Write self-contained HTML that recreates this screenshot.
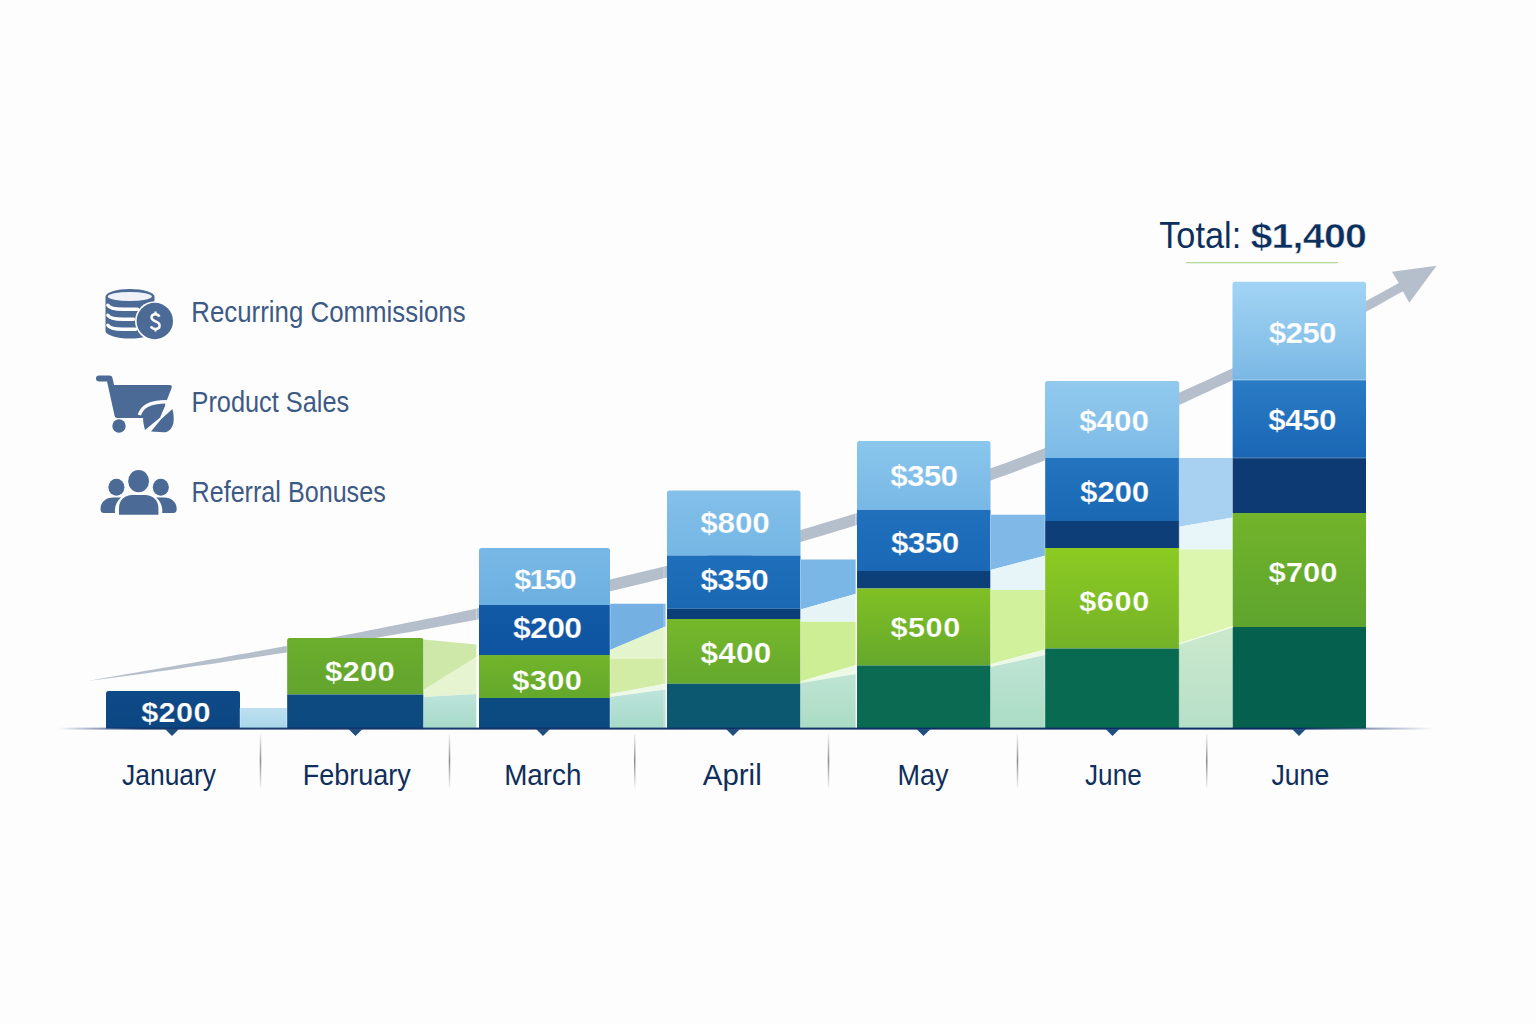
<!DOCTYPE html>
<html><head><meta charset="utf-8"><style>
html,body{margin:0;padding:0;background:#fdfdfd;}
svg{display:block;}
text{font-family:"Liberation Sans",sans-serif;}
</style></head><body>
<svg width="1536" height="1024" viewBox="0 0 1536 1024">
<defs>
<linearGradient id="tl1" x1="0" x2="0" y1="0" y2="1"><stop offset="0" stop-color="#bde4dc"/><stop offset="1" stop-color="#a6dac8"/></linearGradient>
<linearGradient id="tl2" x1="0" x2="0" y1="0" y2="1"><stop offset="0" stop-color="#bfe4d4"/><stop offset="1" stop-color="#aadcc4"/></linearGradient>
<linearGradient id="tl3" x1="0" x2="0" y1="0" y2="1"><stop offset="0" stop-color="#cce9cc"/><stop offset="1" stop-color="#b6dfc8"/></linearGradient>
<linearGradient id="lbg" x1="0" x2="0" y1="0" y2="1"><stop offset="0" stop-color="#bde0f0"/><stop offset="1" stop-color="#a9d6ea"/></linearGradient>
<linearGradient id="g1" x1="0" x2="0" y1="0" y2="1"><stop offset="0" stop-color="#0f4a88"/><stop offset="1" stop-color="#0c4682"/></linearGradient><linearGradient id="g2" x1="0" x2="0" y1="0" y2="1"><stop offset="0" stop-color="#6cae2c"/><stop offset="1" stop-color="#62a42e"/></linearGradient><linearGradient id="g3" x1="0" x2="0" y1="0" y2="1"><stop offset="0" stop-color="#78b8e6"/><stop offset="1" stop-color="#6cb0e0"/></linearGradient><linearGradient id="g4" x1="0" x2="0" y1="0" y2="1"><stop offset="0" stop-color="#125aa6"/><stop offset="1" stop-color="#0e54a0"/></linearGradient><linearGradient id="g5" x1="0" x2="0" y1="0" y2="1"><stop offset="0" stop-color="#72b42a"/><stop offset="1" stop-color="#64a82c"/></linearGradient><linearGradient id="g6" x1="0" x2="0" y1="0" y2="1"><stop offset="0" stop-color="#84c0ea"/><stop offset="1" stop-color="#74b6e4"/></linearGradient><linearGradient id="g7" x1="0" x2="0" y1="0" y2="1"><stop offset="0" stop-color="#1e6fbb"/><stop offset="1" stop-color="#1a68b4"/></linearGradient><linearGradient id="g8" x1="0" x2="0" y1="0" y2="1"><stop offset="0" stop-color="#76b82a"/><stop offset="1" stop-color="#64a82e"/></linearGradient><linearGradient id="g9" x1="0" x2="0" y1="0" y2="1"><stop offset="0" stop-color="#8ac6ec"/><stop offset="1" stop-color="#78b8e6"/></linearGradient><linearGradient id="g10" x1="0" x2="0" y1="0" y2="1"><stop offset="0" stop-color="#2070bc"/><stop offset="1" stop-color="#1a68b6"/></linearGradient><linearGradient id="g11" x1="0" x2="0" y1="0" y2="1"><stop offset="0" stop-color="#80c024"/><stop offset="1" stop-color="#66a82c"/></linearGradient><linearGradient id="g12" x1="0" x2="0" y1="0" y2="1"><stop offset="0" stop-color="#92caee"/><stop offset="1" stop-color="#7cbae6"/></linearGradient><linearGradient id="g13" x1="0" x2="0" y1="0" y2="1"><stop offset="0" stop-color="#2474c0"/><stop offset="1" stop-color="#1a68b4"/></linearGradient><linearGradient id="g14" x1="0" x2="0" y1="0" y2="1"><stop offset="0" stop-color="#8ccb22"/><stop offset="1" stop-color="#74b228"/></linearGradient><linearGradient id="g15" x1="0" x2="0" y1="0" y2="1"><stop offset="0" stop-color="#a2d4f4"/><stop offset="1" stop-color="#7ab8e4"/></linearGradient><linearGradient id="g16" x1="0" x2="0" y1="0" y2="1"><stop offset="0" stop-color="#2a7cc6"/><stop offset="1" stop-color="#1a66b4"/></linearGradient><linearGradient id="g17" x1="0" x2="0" y1="0" y2="1"><stop offset="0" stop-color="#72b42a"/><stop offset="1" stop-color="#5fa42e"/></linearGradient>
<linearGradient id="ax" x1="0" x2="1" y1="0" y2="0">
<stop offset="0" stop-color="#0b2a62" stop-opacity="0"/><stop offset="0.06" stop-color="#0b2a62" stop-opacity="0.9"/>
<stop offset="0.9" stop-color="#0b2a62"/><stop offset="1" stop-color="#0b2a62" stop-opacity="0"/></linearGradient>
<linearGradient id="dv" x1="0" x2="0" y1="0" y2="1">
<stop offset="0" stop-color="#999" stop-opacity="0.1"/><stop offset="0.5" stop-color="#8a8a8a"/><stop offset="1" stop-color="#999" stop-opacity="0.1"/></linearGradient>
</defs>
<rect width="1536" height="1024" fill="#fdfdfd"/>
<path d="M88.0,681.0 L97.4,679.3 L106.8,677.6 L116.3,676.0 L125.7,674.3 L135.1,672.7 L144.5,671.1 L154.0,669.4 L163.4,667.8 L172.8,666.2 L182.3,664.5 L191.7,662.9 L201.1,661.2 L210.5,659.6 L220.0,657.9 L229.4,656.2 L238.8,654.5 L248.3,652.9 L257.7,651.2 L267.1,649.5 L276.6,647.8 L286.0,646.0 L295.4,644.3 L304.8,642.6 L314.3,640.8 L323.7,639.0 L333.1,637.3 L342.6,635.5 L352.0,633.7 L361.4,631.9 L370.8,630.0 L380.3,628.2 L389.7,626.3 L399.1,624.5 L408.5,622.6 L418.0,620.7 L427.4,618.8 L436.8,616.9 L446.2,614.9 L455.7,612.9 L465.1,611.0 L474.5,609.0 L483.9,607.0 L493.3,604.9 L502.8,602.9 L512.2,601.0 L521.7,599.0 L531.1,597.0 L540.5,595.0 L550.0,592.9 L559.4,590.8 L568.9,588.8 L578.3,586.6 L587.7,584.5 L597.2,582.4 L606.6,580.2 L616.1,578.0 L625.5,575.8 L635.0,573.5 L644.4,571.3 L653.8,569.0 L663.3,566.7 L672.7,564.3 L682.1,561.9 L691.6,559.5 L701.0,557.1 L710.5,554.7 L719.9,552.2 L729.3,549.7 L738.8,547.2 L748.2,544.6 L757.7,542.0 L767.1,539.4 L776.5,536.8 L786.0,534.1 L795.4,531.4 L804.8,528.7 L814.3,525.9 L823.7,523.1 L833.2,520.3 L842.6,517.5 L852.0,514.6 L861.5,511.7 L870.9,508.7 L880.3,505.7 L889.8,502.7 L899.2,499.7 L908.6,496.6 L918.1,493.5 L927.5,490.3 L936.9,487.1 L946.4,483.9 L955.8,480.7 L965.2,477.4 L974.7,474.1 L984.1,470.7 L993.6,467.3 L1003.0,463.9 L1012.4,460.4 L1021.9,456.9 L1031.3,453.3 L1040.7,449.7 L1050.2,446.1 L1059.6,442.4 L1069.0,438.7 L1078.5,435.0 L1087.9,431.2 L1097.3,427.4 L1106.8,423.5 L1116.2,419.6 L1125.6,415.6 L1135.1,411.7 L1144.5,407.6 L1153.9,403.6 L1163.4,399.5 L1172.8,395.4 L1182.3,391.2 L1191.7,387.0 L1201.2,382.7 L1210.6,378.4 L1220.1,374.1 L1229.5,369.7 L1239.0,365.2 L1248.5,360.8 L1257.9,356.2 L1267.4,351.6 L1276.8,347.0 L1286.3,342.3 L1295.7,337.6 L1305.2,332.8 L1314.6,328.0 L1324.1,323.2 L1333.5,318.2 L1343.0,313.3 L1352.5,308.3 L1361.9,303.2 L1371.4,298.1 L1380.8,292.9 L1390.3,287.7 L1399.7,282.4 L1404.3,290.4 L1394.8,295.8 L1385.4,301.1 L1375.9,306.4 L1366.5,311.6 L1357.0,316.7 L1347.6,321.8 L1338.1,326.9 L1328.7,331.9 L1319.2,336.9 L1309.8,341.8 L1300.3,346.7 L1290.9,351.5 L1281.4,356.3 L1272.0,361.0 L1262.5,365.7 L1253.0,370.3 L1243.6,374.9 L1234.1,379.4 L1224.7,383.9 L1215.2,388.3 L1205.8,392.7 L1196.3,397.1 L1186.9,401.4 L1177.4,405.7 L1168.0,409.9 L1158.5,414.1 L1149.0,418.2 L1139.6,422.2 L1130.1,426.2 L1120.6,430.2 L1111.1,434.1 L1101.7,438.0 L1092.2,441.9 L1082.7,445.7 L1073.2,449.4 L1063.8,453.2 L1054.3,456.8 L1044.8,460.5 L1035.4,464.1 L1025.9,467.6 L1016.4,471.2 L1006.9,474.7 L997.5,478.1 L988.0,481.5 L978.5,484.9 L969.1,488.2 L959.6,491.5 L950.1,494.8 L940.6,498.0 L931.2,501.2 L921.7,504.4 L912.2,507.5 L902.8,510.6 L893.3,513.7 L883.8,516.7 L874.3,519.7 L864.9,522.6 L855.4,525.6 L845.9,528.5 L836.5,531.3 L827.0,534.2 L817.5,537.0 L808.1,539.7 L798.6,542.5 L789.1,545.2 L779.6,547.9 L770.2,550.5 L760.7,553.1 L751.2,555.7 L741.8,558.3 L732.3,560.8 L722.8,563.3 L713.4,565.8 L703.9,568.3 L694.4,570.7 L685.0,573.1 L675.5,575.5 L666.0,577.8 L656.6,580.1 L647.1,582.4 L637.6,584.7 L628.2,587.0 L618.7,589.2 L609.2,591.4 L599.8,593.6 L590.3,595.7 L580.8,597.9 L571.4,600.0 L561.9,602.1 L552.4,604.1 L543.0,606.2 L533.5,608.2 L524.0,610.2 L514.6,612.2 L505.1,614.2 L495.6,616.1 L486.1,617.9 L476.7,619.7 L467.2,621.5 L457.7,623.3 L448.2,625.0 L438.7,626.8 L429.2,628.5 L419.8,630.2 L410.3,631.9 L400.8,633.5 L391.3,635.2 L381.8,636.8 L372.4,638.4 L362.9,640.0 L353.4,641.6 L343.9,643.2 L334.4,644.8 L325.0,646.3 L315.5,647.8 L306.0,649.4 L296.5,650.9 L287.1,652.4 L277.6,653.8 L268.1,655.3 L258.6,656.8 L249.1,658.2 L239.7,659.6 L230.2,661.1 L220.7,662.5 L211.2,663.9 L201.8,665.3 L192.3,666.6 L182.8,668.0 L173.3,669.4 L163.9,670.7 L154.4,672.1 L144.9,673.4 L135.4,674.7 L125.9,676.0 L116.5,677.3 L107.0,678.6 L97.5,679.8 L88.0,681.0Z" fill="#b5bfcc"/>
<polygon points="1436.6,265.8 1392,271.8 1398.8,283 1402.7,290.9 1409.3,302.7" fill="#b5bfcc"/>
<polygon points="240,708 287,708 287,728.5 240,728.5" fill="url(#lbg)"/><polygon points="423.5,639.6 476.5,644.4 476.5,657 423.5,690" fill="#cde8a8"/><polygon points="423.5,690 476.5,657 476.5,694 423.5,697" fill="#e6f4d2"/><polygon points="423.5,697 476.5,694 476.5,728.5 423.5,728.5" fill="url(#tl1)"/><polygon points="610,603.8 665.5,603.8 665.5,626.4 610,650" fill="#74b0e2"/><polygon points="610,650 665.5,626.4 665.5,658.8 610,658.8" fill="#e4f4cc"/><polygon points="610,658.8 665.5,658.8 665.5,683.8 610,694" fill="#d2eba5"/><polygon points="610,694 665.5,683.8 665.5,689.6 610,697" fill="#eef8e6"/><polygon points="610,697 665.5,689.6 665.5,728.5 610,728.5" fill="url(#tl1)"/><polygon points="800.5,559.5 856,559.5 856,593.7 800.5,609.5" fill="#7ab6e6"/><polygon points="800.5,609.5 856,593.7 856,621.7 800.5,621.7" fill="#e6f4f6"/><polygon points="800.5,621.7 856,621.7 856,665 800.5,681.5" fill="#cdee95"/><polygon points="800.5,681.5 856,665 856,674 800.5,683" fill="#eef8e6"/><polygon points="800.5,683 856,674 856,728.5 800.5,728.5" fill="url(#tl2)"/><polygon points="990.5,514.7 1045,514.7 1045,555.7 990.5,570" fill="#80b8e8"/><polygon points="990.5,570 1045,555.7 1045,590 990.5,590" fill="#e8f5f8"/><polygon points="990.5,590 1045,590 1045,649.5 990.5,664" fill="#d2f19c"/><polygon points="990.5,664 1045,649.5 1045,655 990.5,667" fill="#eef8e6"/><polygon points="990.5,667 1045,655 1045,728.5 990.5,728.5" fill="url(#tl2)"/><polygon points="1179,458 1233,458 1233,517.4 1179,526.7" fill="#a8d0f0"/><polygon points="1179,526.7 1233,517.4 1233,549.6 1179,549.6" fill="#e8f6fa"/><polygon points="1179,549.6 1233,549.6 1233,626.7 1179,644" fill="#dcf6af"/><polygon points="1179,644 1233,626.7 1233,728.5 1179,728.5" fill="url(#tl3)"/>
<path d="M106,728.5 L106,693.5 Q106,691 108.5,691 L237.5,691 Q240,691 240,693.5 L240,728.5 Z" fill="url(#g1)"/><path d="M287,694.5 L287,640.5 Q287,638 289.5,638 L421.0,638 Q423.5,638 423.5,640.5 L423.5,694.5 Z" fill="url(#g2)"/><rect x="287" y="694.5" width="136.5" height="34.0" fill="#0c4a80"/><path d="M479,605 L479,550.5 Q479,548 481.5,548 L607.5,548 Q610,548 610,550.5 L610,605 Z" fill="url(#g3)"/><rect x="479" y="605" width="131" height="50" fill="url(#g4)"/><rect x="479" y="655" width="131" height="43" fill="url(#g5)"/><rect x="479" y="698" width="131" height="30.5" fill="#0c4a82"/><path d="M667,555.5 L667,493.0 Q667,490.5 669.5,490.5 L798.0,490.5 Q800.5,490.5 800.5,493.0 L800.5,555.5 Z" fill="url(#g6)"/><rect x="667" y="555.5" width="133.5" height="53.25" fill="url(#g7)"/><rect x="667" y="608.75" width="133.5" height="10.25" fill="#0c3f7a"/><rect x="667" y="619" width="133.5" height="64.75" fill="url(#g8)"/><rect x="667" y="683.75" width="133.5" height="44.75" fill="#0b5870"/><path d="M857,510 L857,443.5 Q857,441 859.5,441 L988.0,441 Q990.5,441 990.5,443.5 L990.5,510 Z" fill="url(#g9)"/><rect x="857" y="510" width="133.5" height="61" fill="url(#g10)"/><rect x="857" y="571" width="133.5" height="17.5" fill="#0d3f78"/><rect x="857" y="588.5" width="133.5" height="77.0" fill="url(#g11)"/><rect x="857" y="665.5" width="133.5" height="63.0" fill="#0b6a52"/><path d="M1045,458 L1045,383.5 Q1045,381 1047.5,381 L1176.7,381 Q1179.2,381 1179.2,383.5 L1179.2,458 Z" fill="url(#g12)"/><rect x="1045" y="458" width="134.20000000000005" height="63" fill="url(#g13)"/><rect x="1045" y="521" width="134.20000000000005" height="27" fill="#0d3e78"/><rect x="1045" y="548" width="134.20000000000005" height="100.5" fill="url(#g14)"/><rect x="1045" y="648.5" width="134.20000000000005" height="80.0" fill="#086a50"/><path d="M1232.5,380 L1232.5,284.25 Q1232.5,281.75 1235.0,281.75 L1363.5,281.75 Q1366,281.75 1366,284.25 L1366,380 Z" fill="url(#g15)"/><rect x="1232.5" y="380" width="133.5" height="78" fill="url(#g16)"/><rect x="1232.5" y="458" width="133.5" height="55" fill="#0d3a72"/><rect x="1232.5" y="513" width="133.5" height="114" fill="url(#g17)"/><rect x="1232.5" y="627" width="133.5" height="101.5" fill="#05614e"/>
<text transform="translate(141.15,721.50) scale(1.1,1)" style="font-size:27.86px;font-weight:bold;letter-spacing:0.37px;fill:#ffffff;stroke:#0d4885;stroke-width:0.25px">$200</text><text transform="translate(325.03,681.00) scale(1.1,1)" style="font-size:28.14px;font-weight:bold;letter-spacing:0.27px;fill:#ffffff;stroke:#66a82d;stroke-width:0.25px">$200</text><text transform="translate(514.32,588.50) scale(1.1,1)" style="font-size:27.71px;font-weight:bold;letter-spacing:-1.62px;fill:#ffffff;stroke:#72b4e3;stroke-width:0.25px">$150</text><text transform="translate(512.99,638.20) scale(1.1,1)" style="font-size:29.00px;font-weight:bold;letter-spacing:-0.55px;fill:#ffffff;stroke:#1057a3;stroke-width:0.25px">$200</text><text transform="translate(512.34,689.60) scale(1.1,1)" style="font-size:28.00px;font-weight:bold;letter-spacing:0.28px;fill:#ffffff;stroke:#6aad2b;stroke-width:0.25px">$300</text><text transform="translate(700.23,533.40) scale(1.1,1)" style="font-size:28.57px;font-weight:bold;letter-spacing:-0.12px;fill:#ffffff;stroke:#7cbbe7;stroke-width:0.25px">$800</text><text transform="translate(700.38,590.00) scale(1.1,1)" style="font-size:28.57px;font-weight:bold;letter-spacing:-0.44px;fill:#ffffff;stroke:#1c6cb8;stroke-width:0.25px">$350</text><text transform="translate(700.38,662.50) scale(1.1,1)" style="font-size:28.57px;font-weight:bold;letter-spacing:0.32px;fill:#ffffff;stroke:#6db02c;stroke-width:0.25px">$400</text><text transform="translate(890.33,485.90) scale(1.1,1)" style="font-size:28.57px;font-weight:bold;letter-spacing:-0.70px;fill:#ffffff;stroke:#81bfe9;stroke-width:0.25px">$350</text><text transform="translate(890.88,552.50) scale(1.1,1)" style="font-size:28.57px;font-weight:bold;letter-spacing:-0.44px;fill:#ffffff;stroke:#1d6cb9;stroke-width:0.25px">$350</text><text transform="translate(890.40,637.00) scale(1.1,1)" style="font-size:27.86px;font-weight:bold;letter-spacing:0.52px;fill:#ffffff;stroke:#73b428;stroke-width:0.25px">$500</text><text transform="translate(1079.13,431.25) scale(1.1,1)" style="font-size:28.57px;font-weight:bold;letter-spacing:0.02px;fill:#ffffff;stroke:#86c2ea;stroke-width:0.25px">$400</text><text transform="translate(1080.03,501.60) scale(1.1,1)" style="font-size:28.57px;font-weight:bold;letter-spacing:-0.21px;fill:#ffffff;stroke:#1f6eba;stroke-width:0.25px">$200</text><text transform="translate(1079.15,611.00) scale(1.1,1)" style="font-size:27.86px;font-weight:bold;letter-spacing:0.60px;fill:#ffffff;stroke:#7fbe25;stroke-width:0.25px">$600</text><text transform="translate(1268.63,342.50) scale(1.1,1)" style="font-size:28.57px;font-weight:bold;letter-spacing:-0.59px;fill:#ffffff;stroke:#8dc6ec;stroke-width:0.25px">$250</text><text transform="translate(1268.13,430.00) scale(1.1,1)" style="font-size:28.57px;font-weight:bold;letter-spacing:-0.44px;fill:#ffffff;stroke:#2271bd;stroke-width:0.25px">$450</text><text transform="translate(1268.57,581.50) scale(1.1,1)" style="font-size:28.21px;font-weight:bold;letter-spacing:-0.03px;fill:#ffffff;stroke:#68ac2c;stroke-width:0.25px">$700</text>
<rect x="1232.5" y="379.5" width="133.5" height="1" fill="#ffffff" fill-opacity="0.45"/>
<rect x="1232.5" y="457.5" width="133.5" height="1" fill="#ffffff" fill-opacity="0.3"/>
<line x1="1179" y1="644" x2="1233" y2="626.7" stroke="#ffffff" stroke-opacity="0.8" stroke-width="1.3"/>
<rect x="239.5" y="708" width="1" height="20" fill="#ffffff" fill-opacity="0.35"/><rect x="286.5" y="638" width="1" height="90" fill="#ffffff" fill-opacity="0.35"/><rect x="423.0" y="638" width="1" height="90" fill="#ffffff" fill-opacity="0.35"/><rect x="476.0" y="605" width="1" height="123" fill="#ffffff" fill-opacity="0.35"/><rect x="609.5" y="603.8" width="1" height="124.20000000000005" fill="#ffffff" fill-opacity="0.35"/><rect x="663.5" y="555.5" width="1" height="172.5" fill="#ffffff" fill-opacity="0.35"/><rect x="800.0" y="559.5" width="1" height="168.5" fill="#ffffff" fill-opacity="0.35"/><rect x="855.0" y="510" width="1" height="218" fill="#ffffff" fill-opacity="0.35"/><rect x="990.0" y="514.7" width="1" height="213.29999999999995" fill="#ffffff" fill-opacity="0.35"/><rect x="1044.5" y="458" width="1" height="270" fill="#ffffff" fill-opacity="0.35"/><rect x="1178.7" y="458" width="1" height="270" fill="#ffffff" fill-opacity="0.35"/><rect x="1232.0" y="380" width="1" height="348" fill="#ffffff" fill-opacity="0.35"/>
<rect x="58" y="727.6" width="1376" height="2" fill="url(#ax)"/>
<polygon points="165,729 179,729 172,736" fill="#1f4f7e"/><polygon points="348.5,729 362.5,729 355.5,736" fill="#1f4f7e"/><polygon points="536,729 550,729 543,736" fill="#1f4f7e"/><polygon points="726,729 740,729 733,736" fill="#1f4f7e"/><polygon points="916.5,729 930.5,729 923.5,736" fill="#1f4f7e"/><polygon points="1105.5,729 1119.5,729 1112.5,736" fill="#1f4f7e"/><polygon points="1292,729 1306,729 1299,736" fill="#1f4f7e"/>
<rect x="259.75" y="734" width="1.5" height="54" fill="url(#dv)"/><rect x="448.75" y="734" width="1.5" height="54" fill="url(#dv)"/><rect x="634.0" y="734" width="1.5" height="54" fill="url(#dv)"/><rect x="827.75" y="734" width="1.5" height="54" fill="url(#dv)"/><rect x="1016.75" y="734" width="1.5" height="54" fill="url(#dv)"/><rect x="1206.0" y="734" width="1.5" height="54" fill="url(#dv)"/>
<text x="122.04" y="785.00" textLength="94.05" lengthAdjust="spacingAndGlyphs" style="font-size:28.99px;font-weight:normal;fill:#0f2e5c">January</text><text x="302.77" y="785.00" textLength="108.01" lengthAdjust="spacingAndGlyphs" style="font-size:28.99px;font-weight:normal;fill:#0f2e5c">February</text><text x="504.20" y="785.00" textLength="77.32" lengthAdjust="spacingAndGlyphs" style="font-size:28.99px;font-weight:normal;fill:#0f2e5c">March</text><text x="702.87" y="785.00" textLength="58.80" lengthAdjust="spacingAndGlyphs" style="font-size:28.99px;font-weight:normal;fill:#0f2e5c">April</text><text x="897.52" y="785.00" textLength="51.02" lengthAdjust="spacingAndGlyphs" style="font-size:28.99px;font-weight:normal;fill:#0f2e5c">May</text><text x="1085.04" y="785.00" textLength="56.69" lengthAdjust="spacingAndGlyphs" style="font-size:28.99px;font-weight:normal;fill:#0f2e5c">June</text><text x="1271.43" y="785.00" textLength="57.82" lengthAdjust="spacingAndGlyphs" style="font-size:28.99px;font-weight:normal;fill:#0f2e5c">June</text>
<text x="1159.23" y="247.70" textLength="81.95" lengthAdjust="spacingAndGlyphs" style="font-size:36.38px;font-weight:normal;fill:#0d2f5e">Total:</text><text transform="translate(1250.43,247.70) scale(1.1,1)" style="font-size:35.71px;font-weight:bold;letter-spacing:-0.67px;fill:#0d2f5e;stroke:#fdfdfd;stroke-width:0.5px">$1,400</text>
<rect x="1186" y="262" width="152" height="1.3" fill="#b2da98"/>
<g fill="#4b6a95">
<path d="M105.5,296.5 A24.5,7.5 0 0 1 154.5,296.5 L154.5,331 A24.5,7.5 0 0 1 105.5,331 Z"/>
<ellipse cx="129.8" cy="296.5" rx="22" ry="4.6" fill="#eef2f8"/>
<g fill="none" stroke="#fdfdfd" stroke-width="3.4" stroke-linecap="round">
<path d="M107.8,305.2 C109.6,308.4 114,309.3 123,309.3 L137.5,309.3"/>
<path d="M107.8,315.2 C109.6,318.4 114,319.3 123,319.3 L133.6,319.3"/>
<path d="M107.8,325.2 C109.6,328.4 114,329.3 123,329.3 L135.6,329.3"/>
</g>
<circle cx="154.8" cy="321" r="19.8" fill="#fdfdfd"/>
<circle cx="154.8" cy="321" r="18.2"/>
<path d="M159.4,316.6 C158.6,314.9 157,314.2 155.3,314.2 C152.9,314.2 151.5,315.7 151.5,317.6 C151.5,322.2 159.6,320.6 159.6,325.4 C159.6,327.6 157.8,328.9 155.3,328.9 C153.3,328.9 151.8,328.1 150.9,326.4" fill="none" stroke="#fdfdfd" stroke-width="2.5"/><path d="M155.5,311.6 L155.5,315 M155.5,328 L155.5,331.6" stroke="#fdfdfd" stroke-width="2.2"/>
</g>
<g fill="#4b6a95">
<path d="M99,378.5 L109.5,378.5 L117.5,415" fill="none" stroke="#4b6a95" stroke-width="6" stroke-linecap="round" stroke-linejoin="round"/>
<path d="M110,385 L169.5,385 Q172.5,385 171.6,388 L160,418 L117,418 Z"/>
<circle cx="119" cy="426" r="6.7"/>
<path d="M139.3,415 C142,407 148,402 166.8,401.8" fill="none" stroke="#fdfdfd" stroke-width="3.5"/>
<path d="M143.2,417 C145,410 150,406 165.4,405.3 L159,418.6 L145,430 C143.5,425 142.8,420 143.2,417 Z"/>
<path d="M151,431.6 L161.1,419.3 L172.4,409.1 C173.8,414 174,419 173.4,422.9 C172,429 168,432.3 164,432.3 Z"/>
</g>
<g fill="#4b6a95">
<ellipse cx="138.6" cy="481.2" rx="10.4" ry="11.1"/>
<ellipse cx="116.4" cy="487.2" rx="8" ry="8.5"/>
<ellipse cx="160.8" cy="487.2" rx="8" ry="8.5"/>
<path d="M100.5,509 C100.5,502 106,497.5 113,497.5 L121,497.5 C116,502 114.5,507 115,513 L104,513 C101.5,513 100.5,511.5 100.5,509 Z"/>
<path d="M176.7,509 C176.7,502 171.2,497.5 164.2,497.5 L156.2,497.5 C161.2,502 162.7,507 162.2,513 L173.2,513 C175.7,513 176.7,511.5 176.7,509 Z"/>
<path d="M119,514.7 L119,508 C119,500 125,495 132,495 L145.2,495 C152.2,495 158.4,500 158.4,508 L158.4,514.7 Z" stroke="#fdfdfd" stroke-width="3" paint-order="stroke"/>
</g>

<text x="191.27" y="321.75" textLength="274.31" lengthAdjust="spacingAndGlyphs" style="font-size:28.99px;font-weight:normal;fill:#3d5a85">Recurring Commissions</text><text x="191.51" y="411.75" textLength="157.67" lengthAdjust="spacingAndGlyphs" style="font-size:28.99px;font-weight:normal;fill:#3d5a85">Product Sales</text><text x="191.53" y="501.75" textLength="194.21" lengthAdjust="spacingAndGlyphs" style="font-size:28.99px;font-weight:normal;fill:#3d5a85">Referral Bonuses</text>
</svg>
</body></html>
